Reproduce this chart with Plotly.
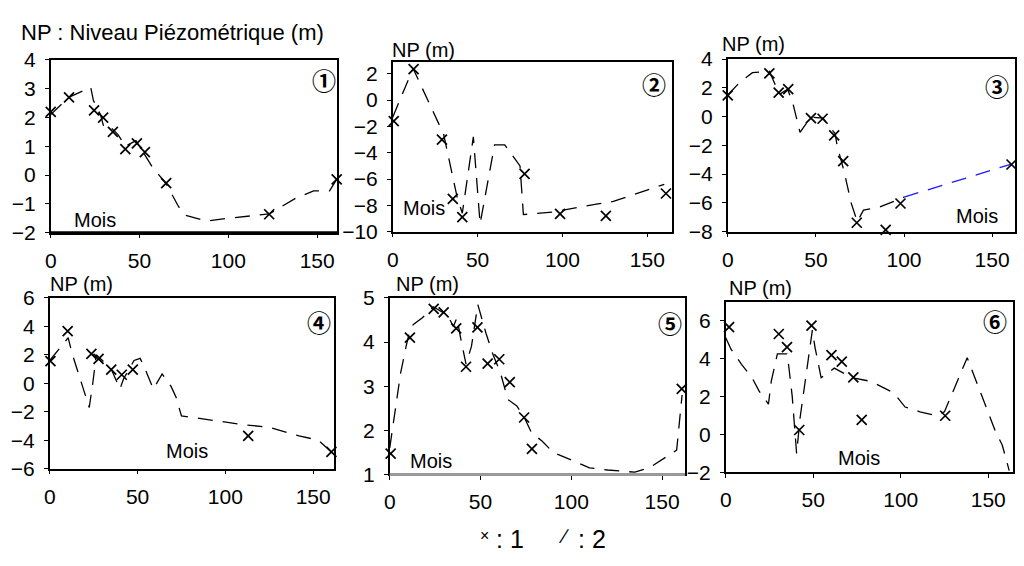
import plotly.graph_objects as go

W, H = 1024, 566

# ---------------- data ----------------
# Panel 1
p1_x1 = [0, 10.3, 24.4, 29.5, 35, 42, 48.5, 53, 65, 123, 161]
p1_y1 = [2.2, 2.7, 2.25, 2.0, 1.5, 0.9, 1.1, 0.8, -0.28, -1.36, -0.15]
p1_x2 = [0, 10, 22.5, 24, 28, 30, 34, 38, 42, 48, 52, 57, 65, 72, 76, 88, 100, 123, 138, 148, 157, 161]
p1_y2 = [2.1, 2.7, 3.05, 2.6, 2.1, 1.65, 1.65, 1.4, 1.0, 1.2, 0.8, 0.3, -0.3, -1.1, -1.4, -1.6, -1.5, -1.35, -0.8, -0.55, -0.55, -0.15]

# Panel 2
p2_x1 = [0.6, 12.3, 29, 35.4, 41, 77.7, 98.6, 125.6, 161]
p2_y1 = [-1.6, 2.35, -3.0, -7.5, -8.9, -5.6, -8.65, -8.8, -7.1]
p2_x2 = [0, 12, 30, 38, 41, 47.5, 51.5, 60, 66, 75, 77, 95, 120, 130, 160]
p2_y2 = [-1.3, 2.4, -2.6, -7.4, -8.6, -2.8, -9.4, -3.4, -3.4, -5.0, -8.7, -8.5, -7.9, -7.7, -6.4]

# Panel 3
p3_x1 = [0, 23.6, 28.9, 34.3, 47.2, 53.8, 60.4, 65.5, 73.2, 89.6, 98, 161]
p3_y1 = [1.47, 3.0, 1.67, 1.91, -0.11, -0.15, -1.3, -3.1, -7.38, -7.87, -6.04, -3.33]
p3_x2 = [0, 7, 14, 23.6, 27, 30, 34, 37, 41, 47, 54, 61, 62, 66, 70, 73.5, 77, 86, 100]
p3_y2 = [1.5, 2.4, 3.05, 3.15, 2.2, 1.6, 1.9, 0.9, -1.1, -0.05, -0.1, -1.2, -2.0, -3.8, -6.0, -7.3, -6.5, -6.3, -5.6]
p3_x3 = [100, 161]
p3_y3 = [-5.6, -3.3]

# Panel 4
p4_x1 = [0.4, 10.2, 23.7, 27.8, 35, 41, 47.3, 113, 160.4]
p4_y1 = [1.56, 3.67, 2.07, 1.71, 0.96, 0.6, 0.96, -3.7, -4.82]
p4_x2 = [0, 10.5, 12.7, 18.4, 22.5, 24.5, 26.5, 30, 35, 40, 42, 48, 51.5, 55, 59, 64, 69, 72, 75, 84, 110, 125, 142, 153, 162]
p4_y2 = [1.6, 3.2, 2.1, -0.1, -1.7, 0.0, 2.0, 1.6, 1.0, -0.4, 0.3, 1.6, 1.75, 0.8, -0.4, 0.65, -0.2, -1.0, -2.3, -2.45, -2.9, -3.1, -3.7, -4.0, -5.0]

# Panel 5
p5_x1 = [0.5, 11.1, 24.2, 29.7, 36.6, 42, 48.3, 53.9, 60.3, 66.1, 74, 78.3, 160.8]
p5_y1 = [1.47, 4.1, 4.75, 4.67, 4.31, 3.44, 4.33, 3.51, 3.61, 3.09, 2.29, 1.58, 2.94]
p5_x2 = [0, 3, 6, 9, 11, 13, 18, 24, 32, 35, 37, 39, 42, 45, 48.5, 53, 57, 61, 65, 70, 74, 78, 84, 90, 101, 110, 120, 135, 143, 150, 156, 158, 161]
p5_y2 = [1.6, 2.5, 3.3, 3.9, 4.25, 4.4, 4.55, 4.8, 4.6, 4.35, 4.55, 4.1, 3.5, 3.9, 4.85, 4.2, 3.7, 3.3, 2.7, 2.55, 2.3, 1.95, 1.75, 1.5, 1.3, 1.15, 1.1, 1.05, 1.15, 1.33, 1.5, 1.55, 2.8]

# Panel 6
p6_x1 = [1.9, 30.3, 35, 42, 49, 60.4, 66.3, 72.9, 77.7, 125.4]
p6_y1 = [5.66, 5.3, 4.61, 0.24, 5.74, 4.19, 3.84, 3.01, 0.77, 0.99]
p6_x2 = [0, 3, 9, 15, 19, 24.4, 26, 29.5, 35, 36, 38, 40.5, 42.5, 45, 49.5, 51, 54.5, 58, 62, 72, 83, 96, 102.5, 111, 120, 125, 132, 138, 144, 150, 154, 158, 162]
p6_y2 = [5.1, 4.5, 3.7, 3.0, 2.3, 1.6, 2.8, 4.25, 4.25, 3.6, 2.0, -1.0, 0.9, 2.6, 5.5, 4.6, 3.0, 3.2, 3.5, 3.0, 2.8, 2.2, 1.45, 1.2, 1.0, 1.2, 2.7, 4.05, 2.6, 1.1, 0.2, -0.55, -1.9]

x_ticks = [0, 50, 100, 150]
y_ticks = [
    [-2, -1, 0, 1, 2, 3, 4],
    [-10, -8, -6, -4, -2, 0, 2],
    [-8, -6, -4, -2, 0, 2, 4],
    [-6, -4, -2, 0, 2, 4, 6],
    [1, 2, 3, 4, 5],
    [-2, 0, 2, 4, 6],
]
panel_labels = ["①", "②", "③", "④", "⑤", "⑥"]

# ---------------- layout geometry (pixels) ----------------
panels = [
    dict(xpx=(45, 333), ypx=(50, 230), xr=[0, 161.2], yr=[-2, 4]),
    dict(xpx=(389, 670), ypx=(52, 229), xr=[0, 164.6], yr=[-10, 2.9]),
    dict(xpx=(726, 1015), ypx=(49, 229), xr=[0, 163], yr=[-8, 4]),
    dict(xpx=(44, 330), ypx=(298, 476), xr=[0, 161.9], yr=[-6, 6]),
    dict(xpx=(386, 683), ypx=(298, 482), xr=[0, 162.6], yr=[1, 5]),
    dict(xpx=(724, 1013), ypx=(302, 480), xr=[0, 164.2], yr=[-2, 7]),
]

def px(x):
    return x / W

def py(y):
    return 1 - y / H

series1 = [(p1_x1, p1_y1), (p2_x1, p2_y1), (p3_x1, p3_y1), (p4_x1, p4_y1), (p5_x1, p5_y1), (p6_x1, p6_y1)]
series2 = [(p1_x2, p1_y2), (p2_x2, p2_y2), (p3_x2, p3_y2), (p4_x2, p4_y2), (p5_x2, p5_y2), (p6_x2, p6_y2)]

FONT = "Liberation Sans, Arial, sans-serif"
TICK = 21
fig = go.Figure()
layout = dict(
    width=W, height=H, margin=dict(l=0, r=0, t=0, b=0),
    paper_bgcolor="white", plot_bgcolor="white", showlegend=False,
    font=dict(family=FONT, color="black", size=TICK),
)

dash = "15px,10px"
for i, p in enumerate(panels):
    n = "" if i == 0 else str(i + 1)
    xa, ya = "x" + n, "y" + n
    x2, y2 = series2[i]
    fig.add_trace(go.Scatter(x=x2, y=y2, mode="lines", xaxis=xa, yaxis=ya,
                             line=dict(color="black", width=1.3, dash=dash), cliponaxis=False))
    if i == 2:
        fig.add_trace(go.Scatter(x=p3_x3, y=p3_y3, mode="lines", xaxis=xa, yaxis=ya,
                                 line=dict(color="#1a1aff", width=1.3, dash=dash), cliponaxis=False))
    x1, y1 = series1[i]
    fig.add_trace(go.Scatter(x=x1, y=y1, mode="markers", xaxis=xa, yaxis=ya, cliponaxis=False,
                             marker=dict(symbol="x-thin", size=10, line=dict(color="black", width=1.7))))
    layout["xaxis" + n] = dict(
        domain=[px(p["xpx"][0]), px(p["xpx"][1])], range=p["xr"], anchor=ya,
        tickvals=x_ticks, showgrid=False, zeroline=False, showline=True, mirror=True,
        linecolor="black", linewidth=1.5, ticks="outside", ticklen=4, tickcolor="black",
        tickfont=dict(size=TICK, family=FONT), ticklabelstandoff=4,
    )
    layout["yaxis" + n] = dict(
        domain=[py(p["ypx"][1]), py(p["ypx"][0])], range=p["yr"], anchor=xa,
        tickvals=y_ticks[i], showgrid=False, zeroline=False, showline=True, mirror=True,
        linecolor="black", linewidth=1.5, ticks="outside", ticklen=4, tickcolor="black",
        tickfont=dict(size=TICK, family=FONT), ticklabelstandoff=5,
    )

# heavier bottom axis lines seen in panels 1 and 5
layout["shapes"] = [
    dict(type="line", xref="x domain", yref="y domain", x0=0, x1=1, y0=0, y1=0,
         line=dict(color="black", width=3)),
    dict(type="line", xref="x5 domain", yref="y5 domain", x0=0, x1=1, y0=0, y1=0,
         line=dict(color="#9a9a9a", width=3)),
]

ann = []
def text(x, y, s, size=20, xanchor="center", family=FONT):
    ann.append(dict(x=px(x), y=py(y), xref="paper", yref="paper", text=s, showarrow=False,
                    xanchor=xanchor, yanchor="middle", font=dict(size=size, family=family, color="black")))

text(13, 21, "NP : Niveau Piézométrique (m)", size=22, xanchor="left")
text(386, 40, "NP (m)", xanchor="left")
text(718, 33, "NP (m)", xanchor="left")
text(42, 284, "NP (m)", xanchor="left")
text(390, 284, "NP (m)", xanchor="left")
text(725, 288, "NP (m)", xanchor="left")

for (x, y) in [(90, 217), (420, 204), (977, 213), (182, 458), (428, 468), (858, 465)]:
    text(x, y, "Mois", size=20)

circ_pos = [(320, 70), (652, 75), (997, 77), (315, 323), (668, 324), (995, 322)]
for (x, y), s in zip(circ_pos, panel_labels):
    text(x, y, "<b>" + s + "</b>", size=24, family="Noto Sans CJK JP")

# legend
text(481, 546, "×", size=16)
text(491, 549, ": 1", size=25, xanchor="left")
text(561, 546, "∕", size=20)
text(573, 549, ": 2", size=25, xanchor="left")

layout["annotations"] = ann
fig.update_layout(**layout)
fig.write_html("out.html")
